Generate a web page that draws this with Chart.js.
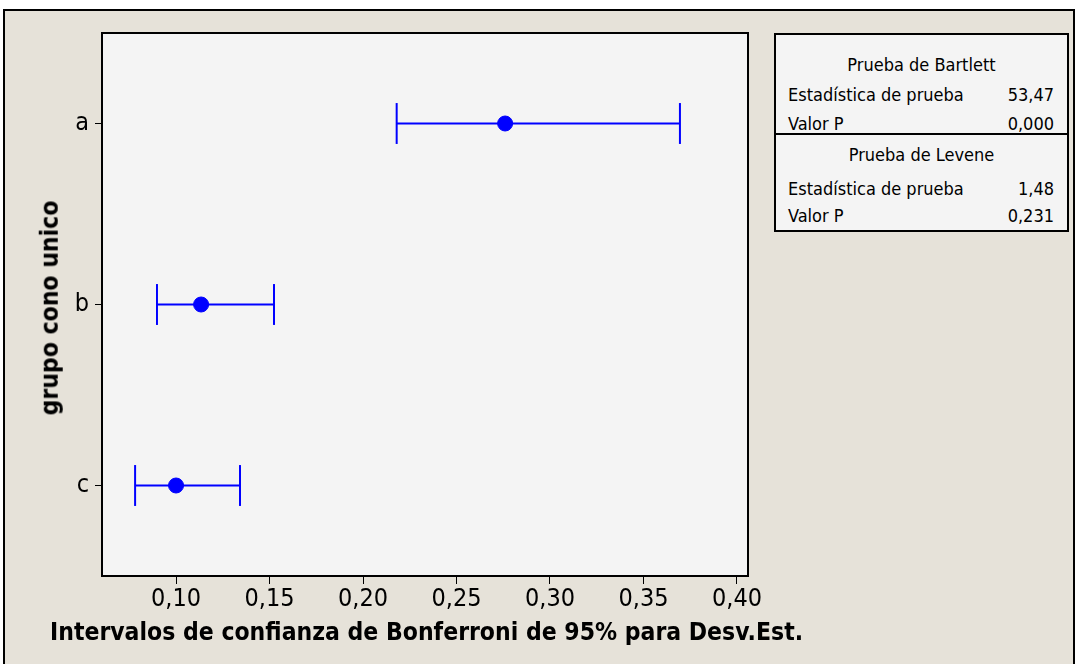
<!DOCTYPE html>
<html>
<head>
<meta charset="utf-8">
<script src="https://cdn.jsdelivr.net/npm/chart.js@4.4.0/dist/chart.umd.min.js"></script>
<style>
  body { margin: 0; background: #fff; }
  #wrap { position: relative; width: 1078px; height: 664px; overflow: hidden; background: #fff; }
  #frame { position: absolute; left: 3px; top: 9px; width: 1072px; height: 660px; border: 2px solid #000; background: #E6E2D9; box-sizing: border-box; }
  #chart { position: absolute; left: 0; top: 0; }
  .t { position: absolute; font-family: "DejaVu Sans Condensed", "DejaVu Sans", sans-serif; color: #000; white-space: nowrap; line-height: 1; }
  #xt { left: 50px; top: 620px; font-size: 24.5px; font-weight: bold; }
  #yt { left: 50px; top: 308px; font-size: 24.5px; font-weight: bold; transform: translate(-50%, -50%) rotate(-90deg); }
  #tbl { position: absolute; left: 774px; top: 33px; width: 295px; height: 199px; border: 2px solid #000; background: #F4F4F4; box-sizing: border-box;
         font-family: "DejaVu Sans Condensed", "DejaVu Sans", sans-serif; font-size: 18px; line-height: 1; }
  #tbl div { position: absolute; white-space: nowrap; }
  #tbl .h { left: 0; right: 0; text-align: center; }
  #tbl .l { left: 12px; }
  #tbl .r { right: 13px; }
  #tbl .div { left: 0; right: 0; top: 98px; border-top: 2px solid #000; }
</style>
</head>
<body>
<div id="wrap">
  <div id="frame"></div>
  <canvas id="chart" width="1078" height="664"></canvas>
  <div class="t" id="yt">grupo cono unico</div>
  <div class="t" id="xt">Intervalos de confianza de Bonferroni de 95% para Desv.Est.</div>
  <div id="tbl"></div>
</div>
<script>
const groups = ['a', 'b', 'c']
const sigma = [0.276, 0.1134, 0.100]
const lower = [0.218, 0.0898, 0.0781]
const upper = [0.3695, 0.1524, 0.1342]
const xTicks = [0.10, 0.15, 0.20, 0.25, 0.30, 0.35, 0.40]

const testNames = ['Prueba de Bartlett', 'Prueba de Levene']
const testStats = ['53,47', '1,48']
const testP = ['0,000', '0,231']

// table of test results
var rowTops = [[21, 51, 80], [111, 145, 172]]
var html = ''
testNames.forEach(function(n, i){
  var t = rowTops[i]
  html += '<div class="h" style="top:' + t[0] + 'px">' + n + '</div>' +
    '<div class="l" style="top:' + t[1] + 'px">Estadística de prueba</div>' +
    '<div class="r" style="top:' + t[1] + 'px">' + testStats[i] + '</div>' +
    '<div class="l" style="top:' + t[2] + 'px">Valor P</div>' +
    '<div class="r" style="top:' + t[2] + 'px">' + testP[i] + '</div>'
})
html += '<div class="div"></div>'
document.getElementById('tbl').innerHTML = html

// group a on top
const yPos = groups.map((g, i) => groups.length - i)
const blue = '#0000FF'
const capH = 0.113

var datasets = []
groups.forEach(function(g, i){
  var y = yPos[i]
  datasets.push({ type: 'line', data: [{x: lower[i], y: y}, {x: upper[i], y: y}], borderColor: blue, borderWidth: 2, pointRadius: 0 })
  datasets.push({ type: 'line', data: [{x: lower[i], y: y - capH}, {x: lower[i], y: y + capH}], borderColor: blue, borderWidth: 2, pointRadius: 0 })
  datasets.push({ type: 'line', data: [{x: upper[i], y: y - capH}, {x: upper[i], y: y + capH}], borderColor: blue, borderWidth: 2, pointRadius: 0 })
})
datasets.push({ type: 'scatter', data: groups.map((g, i) => ({x: sigma[i], y: yPos[i]})), backgroundColor: blue, borderColor: blue, pointRadius: 7.5 })

const plotBg = {
  id: 'plotBg',
  beforeDraw(chart) {
    const a = chart.chartArea, ctx = chart.ctx
    ctx.save()
    ctx.fillStyle = '#F4F4F4'
    ctx.fillRect(a.left, a.top, a.right - a.left, a.bottom - a.top)
    ctx.restore()
  },
  afterDraw(chart) {
    const a = chart.chartArea, ctx = chart.ctx
    ctx.save()
    ctx.strokeStyle = '#000'
    ctx.lineWidth = 2
    ctx.strokeRect(a.left, a.top, a.right - a.left, a.bottom - a.top)
    ctx.restore()
  }
}

const tickFont = { family: '"DejaVu Sans Condensed", "DejaVu Sans", sans-serif', size: 25 }

new Chart(document.getElementById('chart'), {
  type: 'scatter',
  data: { datasets: datasets },
  options: {
    responsive: false,
    animation: false,
    layout: { padding: { top: 33, right: 330, bottom: 0, left: 0 } },
    plugins: { legend: { display: false }, tooltip: { enabled: false } },
    scales: {
      x: {
        type: 'linear', min: 0.0604, max: 0.4059,
        afterBuildTicks: function(axis){ axis.ticks = xTicks.map(v => ({value: v})) },
        afterFit: function(axis){ axis.height = 88 },
        grid: { drawOnChartArea: false, drawTicks: true, tickLength: 8, color: '#000', lineWidth: 1 },
        border: { display: true, color: '#000', width: 2 },
        ticks: { color: '#000', font: tickFont, padding: 0, maxRotation: 0,
          callback: v => v.toFixed(2).replace('.', ',') }
      },
      y: {
        type: 'linear', min: 0.5, max: 3.5,
        afterBuildTicks: function(axis){ axis.ticks = yPos.map(v => ({value: v})) },
        afterFit: function(axis){ axis.width = 102 },
        grid: { drawOnChartArea: false, drawTicks: true, tickLength: 7, color: '#000', lineWidth: 1 },
        border: { display: true, color: '#000', width: 2 },
        ticks: { color: '#000', font: tickFont, padding: 6,
          callback: v => groups[yPos.indexOf(v)] }
      }
    }
  },
  plugins: [plotBg]
})
</script>
</body>
</html>
